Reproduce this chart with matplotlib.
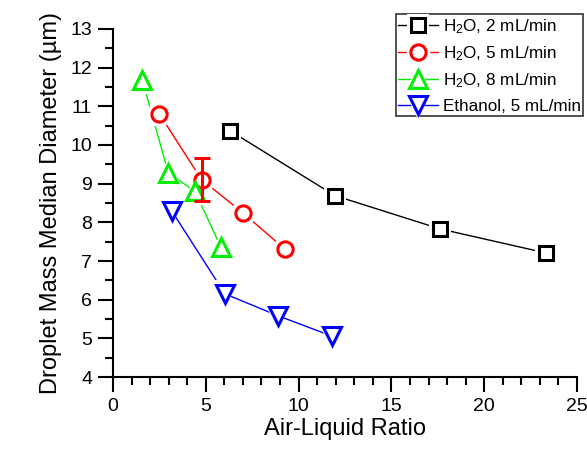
import matplotlib
matplotlib.use('Agg')
import matplotlib.pyplot as plt
from matplotlib.ticker import MultipleLocator
from matplotlib.legend_handler import HandlerTuple

plt.rcParams['font.family'] = ['Liberation Sans', 'DejaVu Sans']
plt.rcParams['mathtext.fontset'] = 'custom'
plt.rcParams['mathtext.rm'] = 'Liberation Sans'
plt.rcParams['mathtext.it'] = 'Liberation Sans:italic'

# data
x_h2o_2 = [6.30, 11.96, 17.62, 23.31]
y_h2o_2 = [10.37, 8.69, 7.83, 7.21]

x_h2o_5 = [2.50, 4.78, 7.02, 9.27]
y_h2o_5 = [10.80, 9.10, 8.24, 7.30]
err_h2o_5 = [0.0, 0.56, 0.0, 0.0]

x_h2o_8 = [1.58, 2.98, 4.42, 5.80]
y_h2o_8 = [11.68, 9.28, 8.80, 7.37]

x_eth_5 = [3.16, 6.03, 8.91, 11.78]
y_eth_5 = [8.30, 6.15, 5.58, 5.06]

labels = ['H$_2$O, 2 mL/min', 'H$_2$O, 5 mL/min', 'H$_2$O, 8 mL/min', 'Ethanol, 5 mL/min']
colors = ['black', 'red', '#00f000', 'blue']
markers = ['s', 'o', '^', 'v']
msizes = [9.5, 11, 13.5, 13.5]

fig = plt.figure(figsize=(5.87, 4.5), dpi=100)
ax = fig.add_axes([0.1925, 0.1622, 0.7905, 0.7734])

series = [(x_h2o_2, y_h2o_2), (x_h2o_5, y_h2o_5), (x_h2o_8, y_h2o_8), (x_eth_5, y_eth_5)]
handles = []
for (xs, ys), lab, c, m, ms in zip(series, labels, colors, markers, msizes):
    ax.plot(xs, ys, '-', color=c, lw=1, zorder=2)
    # white halo so the line stops short of the marker
    ax.plot(xs, ys, ls='none', marker=m, ms=ms + 7, mfc='white', mec='white', mew=0, zorder=3)
    ax.plot(xs, ys, ls='none', marker=m, ms=ms, mfc='white', mec=c, mew=2.2, zorder=4)
    hl, = ax.plot([], [], '-', color=c, lw=1)
    hh, = ax.plot([], [], ls='none', marker=m, ms=ms + 6, mfc='white', mec='white', mew=0)
    hm, = ax.plot([], [], ls='none', marker=m, ms=ms, mfc='white', mec=c, mew=2.2)
    handles.append((hl, hh, hm))

# error bar on the 5 mL/min series
ax.errorbar(x_h2o_5[1], y_h2o_5[1], yerr=err_h2o_5[1], fmt='none', ecolor='red',
            elinewidth=2.2, capsize=6, capthick=2.2, zorder=5)

ax.set_xlim(0, 25)
ax.set_ylim(4, 13)
ax.xaxis.set_major_locator(MultipleLocator(5))
ax.xaxis.set_minor_locator(MultipleLocator(1))
ax.yaxis.set_major_locator(MultipleLocator(1))
ax.yaxis.set_minor_locator(MultipleLocator(0.5))
for s in ['top', 'right']:
    ax.spines[s].set_visible(False)
for s in ['left', 'bottom']:
    ax.spines[s].set_linewidth(1.5)
ax.tick_params(which='major', direction='out', length=11, width=1.5, labelsize=14, pad=4)
ax.tick_params(which='minor', direction='out', length=5.5, width=1.5)

ax.set_xlabel('Air-Liquid Ratio', fontsize=17, labelpad=2)
ax.set_ylabel('Droplet Mass Median Diameter (\u00b5m)', fontsize=17, labelpad=6)

leg = fig.legend(handles, labels, loc='upper right', bbox_to_anchor=(0.994, 0.968),
                 handler_map={tuple: HandlerTuple(ndivide=1, pad=0)},
                 fontsize=12.3, frameon=True, fancybox=False, edgecolor='black',
                 handlelength=2.3, handletextpad=0.3, labelspacing=0.5,
                 borderpad=0.15, borderaxespad=0)
leg.get_frame().set_linewidth(1.2)

fig.savefig('out.png', dpi=100)
